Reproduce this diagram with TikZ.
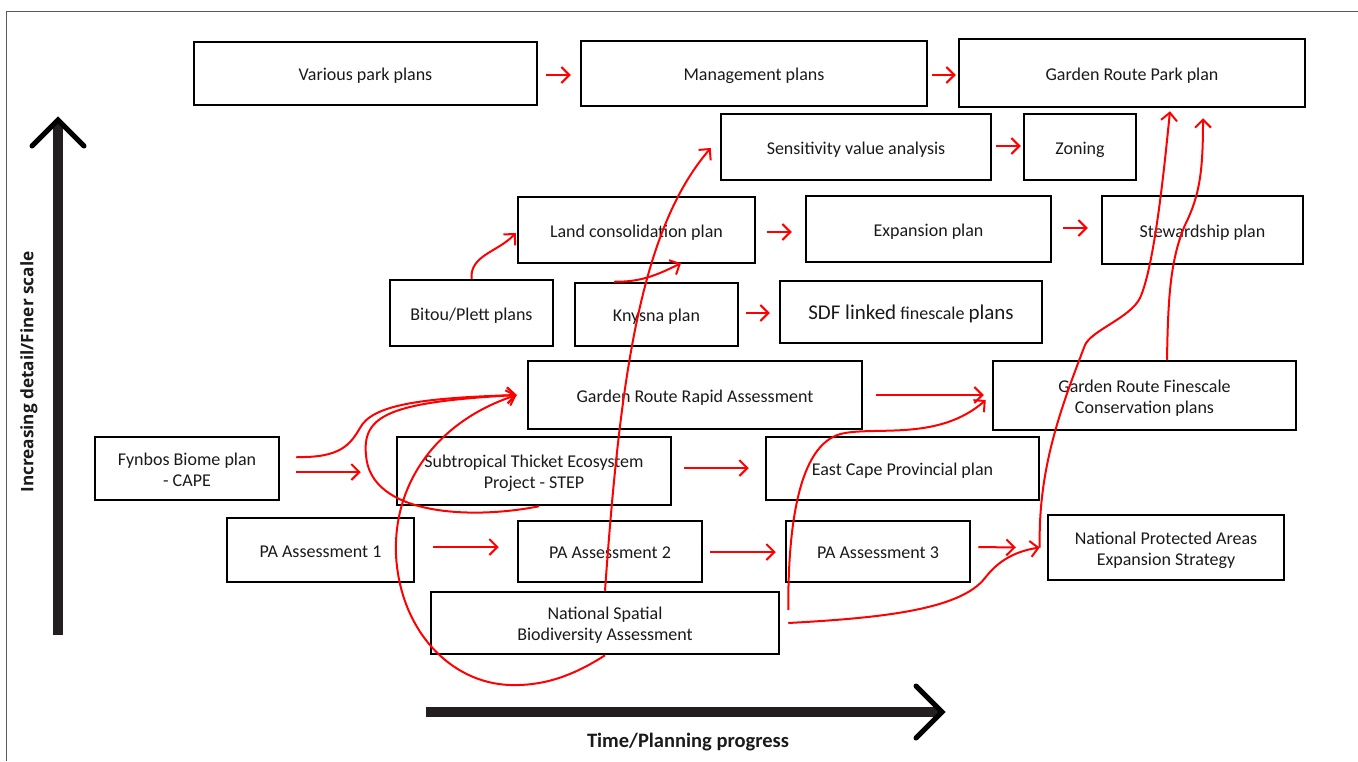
\documentclass[tikz,border=0pt]{standalone}
\usepackage{fontspec}
\setmainfont{Carlito}
\newfontfamily\osans{Open Sans}
\usetikzlibrary{arrows.meta,calc}
\definecolor{axis}{HTML}{231F20}
\definecolor{txt}{HTML}{1A1A1A}
\newcommand{\bt}[1]{\raisebox{-3pt}[\height][\depth]{\begin{tabular}{@{}c@{}}#1\end{tabular}}}
\tikzset{
  box/.style={draw=black, line width=2.5pt, rectangle, inner sep=0pt, align=center,
    text=txt, font=\fontsize{18}{21}\selectfont},
  rarr/.style={draw=red, line width=2pt,
    -{Straight Barb[length=8pt,width=16pt,line width=2pt]}},
  axisline/.style={draw=axis, line width=10pt},
  axishead/.style={draw=black, line width=5pt, line cap=round, line join=miter},
  frameline/.style={draw=black!65, line width=1pt},
}
\begin{document}
\begin{tikzpicture}[x=1pt,y=-1pt]
\useasboundingbox (0,0) rectangle (1358,761);
% frame
\draw[frameline] (6,761) -- (6,11) -- (1358,11);

% axes
\draw[axisline] (58,635) -- (58,124);
\draw[axishead] (32,146) -- (58,120) -- (84,146);
\draw[axisline] (426,712) -- (938,712);
\draw[axishead] (916,686) -- (942,712) -- (916,738);
\node[rotate=90, font=\osans\bfseries\fontsize{17.2}{20}\selectfont, text=txt] (ylab) at (29,372) {Increasing detail/Finer scale};
\node[font=\bfseries\fontsize{20.5}{24}\selectfont, text=txt] (xlab) at (688,742) {Time/Planning progress};

% boxes
\node[box, minimum width=343pt, minimum height=63pt] (vpp) at (365.5,73.5) {\bt{Various park plans}};
\node[box, minimum width=346pt, minimum height=65pt] (mp) at (754,73.5) {\bt{Management plans}};
\node[box, minimum width=346pt, minimum height=68pt] (grp) at (1132,73) {\bt{Garden Route Park plan}};
\node[box, minimum width=270pt, minimum height=66pt] (sva) at (856,147) {\bt{Sensitivity value analysis}};
\node[box, minimum width=112pt, minimum height=66pt] (zon) at (1080,147) {\bt{Zoning}};
\node[box, minimum width=237pt, minimum height=66pt] (lcp) at (636.5,230) {\bt{Land consolidation plan}};
\node[box, minimum width=245pt, minimum height=66pt] (exp) at (928.5,229) {\bt{Expansion plan}};
\node[box, minimum width=201pt, minimum height=68pt] (stw) at (1202.5,230) {\bt{Stewardship plan}};
\node[box, minimum width=163pt, minimum height=66pt] (bpp) at (471.5,313) {\bt{Bitou/Plett plans}};
\node[box, minimum width=163pt, minimum height=63pt] (kny) at (656.5,314.5) {\bt{Knysna plan}};
\node[box, minimum width=262pt, minimum height=62pt] (sdf) at (911,312) {\bt{{\fontsize{21}{24}\selectfont SDF linked} finescale {\fontsize{21}{24}\selectfont plans}}};
\node[box, minimum width=334pt, minimum height=68pt] (grra) at (695,395) {\bt{Garden Route Rapid Assessment}};
\node[box, minimum width=303pt, minimum height=69pt] (grfc) at (1144.5,395.5) {\bt{Garden Route Finescale\\Conservation plans}};
\node[box, minimum width=184pt, minimum height=63pt] (fbp) at (187,468.5) {\bt{Fynbos Biome plan\\- CAPE}};
\node[box, minimum width=274pt, minimum height=68pt] (step) at (534,471) {\bt{Subtropical Thicket Ecosystem\\Project - STEP}};
\node[box, minimum width=273pt, minimum height=63pt] (ecp) at (902.5,468.5) {\bt{East Cape Provincial plan}};
\node[box, minimum width=187pt, minimum height=64pt] (pa1) at (320.5,550) {\bt{PA Assessment 1}};
\node[box, minimum width=184pt, minimum height=61pt] (pa2) at (610,551.5) {\bt{PA Assessment 2}};
\node[box, minimum width=184pt, minimum height=61pt] (pa3) at (878,551.5) {\bt{PA Assessment 3}};
\node[box, minimum width=236pt, minimum height=65pt] (npaes) at (1166,547.5) {\bt{National Protected Areas\\Expansion Strategy}};
\node[box, minimum width=348pt, minimum height=62pt] (nsba) at (605,623) {\bt{National Spatial\\Biodiversity Assessment}};

% straight red arrows
\draw[rarr] ([xshift=8pt,yshift=-1.5pt]vpp.east) -- ([xshift=-9pt,yshift=-1.5pt]mp.west);
\draw[rarr] ([xshift=4pt,yshift=-1.5pt]mp.east) -- ([xshift=-2pt,yshift=-2pt]grp.west);
\draw[rarr] ([xshift=4pt,yshift=1pt]sva.east) -- ([xshift=-2pt,yshift=1pt]zon.west);
\draw[rarr] ([xshift=11pt,yshift=-2pt]lcp.east) -- ([xshift=-13pt,yshift=-3pt]exp.west);
\draw[rarr] ([xshift=11pt,yshift=1pt]exp.east) -- ([xshift=-13pt,yshift=2pt]stw.west);
\draw[rarr] ([xshift=7pt,yshift=1.5pt]kny.east) -- ([xshift=-9pt,yshift=-1pt]sdf.west);
\draw[rarr] ([xshift=16pt,yshift=-3.5pt]fbp.east) -- ([xshift=-35pt,yshift=-1pt]step.west);
\draw[rarr] ([xshift=12pt,yshift=3pt]step.east) -- ([xshift=-16pt,yshift=0.5pt]ecp.west);
\draw[rarr] ([xshift=13pt]grra.east) -- ([xshift=-8pt,yshift=0.5pt]grfc.west);
\draw[rarr] ([xshift=18pt,yshift=3pt]pa1.east) -- ([xshift=-18pt,yshift=4.5pt]pa2.west);
\draw[rarr] ([xshift=7pt,yshift=-0.5pt]pa2.east) -- ([xshift=-9pt,yshift=-0.5pt]pa3.west);
\draw[rarr] ([xshift=7pt,yshift=4.5pt]pa3.east) -- ([xshift=-31pt]npaes.west);

% curved red arrows
\draw[rarr] (bpp.north) .. controls (470,255) and (498,252) .. ([xshift=-1pt,yshift=-3pt]lcp.west);
\draw[rarr] ([xshift=-42.5pt]kny.north) .. controls (640,282) and (655,276) .. ([xshift=44.5pt,yshift=1pt]lcp.south);
\draw[rarr] (nsba.north) .. controls (620,380) and (640,230) .. ([xshift=-9pt,yshift=-1pt]sva.west);
\draw[rarr] ([xshift=16pt,yshift=11.5pt]fbp.east) .. controls (340,458) and (350,445) .. (360,428)
  .. controls (372,405) and (420,398) .. ([xshift=-10pt]grra.west);
\draw[rarr] ([xshift=5pt]step.south) .. controls (470,520) and (370,515) .. (366,455)
  .. controls (362,415) and (390,402) .. ([xshift=-10pt]grra.west);
\draw[rarr] (nsba.south) .. controls (570,678) and (540,686) .. (510,685)
  .. controls (450,683) and (400,630) .. (396,555)
  .. controls (393,480) and (440,420) .. ([xshift=-10pt]grra.west);
\draw[rarr] ([xshift=8pt,yshift=13pt]nsba.east) .. controls (788,520) and (800,440) .. (845,433)
  .. controls (880,427) and (940,440) .. ([xshift=-6pt,yshift=-4.5pt]grfc.west);
\draw[rarr] ([xshift=8pt]nsba.east) .. controls (880,618) and (960,610) .. (985,578)
  .. controls (995,565) and (1010,552) .. ([xshift=-7pt]npaes.west);
\draw[rarr] ([xshift=-7pt]npaes.west) .. controls (1038,470) and (1060,410) .. (1085,345)
  .. controls (1092,330) and (1130,318) .. (1140,298)
  .. controls (1155,265) and (1165,160) .. ([xshift=38pt,yshift=-3pt]grp.south);
\draw[rarr] ([xshift=22.5pt]grfc.north) .. controls (1168,300) and (1170,260) .. (1185,225)
  .. controls (1200,195) and (1203,170) .. ([xshift=71pt,yshift=-10pt]grp.south);
\end{tikzpicture}
\end{document}
